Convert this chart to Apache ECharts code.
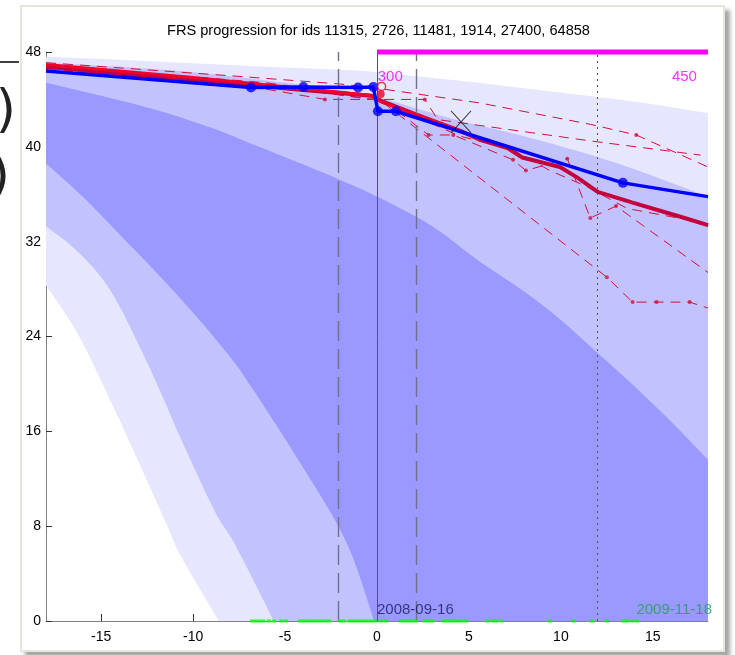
<!DOCTYPE html>
<html><head><meta charset="utf-8">
<script src="https://cdn.jsdelivr.net/npm/echarts@6/dist/echarts.min.js"></script>
<style>
html,body{margin:0;padding:0;background:#fff;overflow:hidden}
#panel{position:absolute;left:20px;top:5px;width:701px;height:643px;background:#fff;border:2px solid #e6e6dc;box-shadow:5px 5px 4px rgba(90,90,90,0.55)}
#c{position:absolute;left:0;top:0;width:735px;height:655px}
</style>
</head><body>
<div id="panel"></div>
<div id="c"></div>
<script>
// ---------------- data ----------------
const chartTitle = 'FRS progression for ids 11315, 2726, 11481, 1914, 27400, 64858';
const xTicks = [-15, -10, -5, 0, 5, 10, 15];

// percentile fan edges
const lightHighX = [-18, -14, -10, -6, -2, 0, 4, 8, 12, 15, 18];
const lightHighY = [47.6, 47.35, 47.05, 46.75, 46.5, 46.3, 45.65, 44.95, 44.2, 43.6, 42.85];
const lightLowX  = [-18, -16.3, -14.5, -12.7, -11.4, -10.6, -8.6, 18];
const lightLowY  = [28.3, 24.3, 18.6, 12.5, 8.0, 5.3, 0, 0];

const midHighX = [-18, -14, -10, -6, -2, 0, 2, 4.5, 8, 11, 14, 18];
const midHighY = [47.1, 46.75, 46.3, 45.6, 44.8, 44.2, 43.3, 42.2, 40.9, 39.6, 38.1, 35.8];
const midLowX  = [-18, -16.3, -14.5, -12.5, -10.5, -8.8, -7.7, -5.6, 18];
const midLowY  = [33.3, 31.2, 27.9, 21.8, 14.8, 9.2, 6.4, 0, 0];

const darkHighX = [-18, -15, -12, -9, -6.9, -4, -2, 0, 3, 5.6, 8, 10, 12, 14, 16, 18];
const darkHighY = [45.4, 44.3, 43.1, 41.6, 40.3, 38.5, 37.2, 35.8, 33.3, 30.3, 27.8, 25.4, 22.6, 19.8, 16.8, 13.6];
const darkLowX  = [-18, -16, -14, -12, -10, -8, -6.9, -4, -1.65, -0.15, 18];
const darkLowY  = [38.6, 35.8, 32.6, 29.4, 26.0, 22.3, 19.9, 12.9, 6.6, 0, 0];

// blue patient trajectory
const blueX = [-18, -6.85, -4.0, -1.03, -0.2, 0.05, 1.03, 13.37, 18];
const blueY = [46.4, 45.0, 45.05, 45.0, 45.05, 43.0, 43.0, 36.96, 35.8];
const blueDotX = [-6.85, -4.0, -1.03, -0.2, 0.05, 1.03, 13.37];
const blueDotY = [45.0, 45.05, 45.0, 45.05, 43.0, 43.0, 36.96];

// thick red / crimson trajectories
const crimsonX = [-18, -10, -4, -0.3, 0.2, 2.0, 4.6, 5.6, 7.1, 7.9, 9.95, 10.9, 12.0, 13.9, 16.5, 18];
const crimsonY = [46.75, 45.6, 44.8, 44.3, 43.9, 42.8, 41.3, 40.6, 39.9, 39.1, 38.3, 37.4, 36.2, 35.3, 34.1, 33.4];
const redX = [-18, -10, -0.4, 0.2, 4.6];
const redY = [46.95, 45.85, 44.35, 43.8, 41.3];

// thin dashed neighbour trajectories
const t1X = [-18, -8, -2, 0.2, 5.6, 11.6, 14.1, 18];
const t1Y = [47.1, 46.0, 45.3, 44.9, 43.7, 41.9, 41.0, 38.3];
const t1DotX = [14.1];
const t1DotY = [41.0];
const t2X = [-18, -8, -2.83, 2.6, 3.3, 11.6, 17.6];
const t2Y = [46.5, 45.4, 44.0, 44.0, 42.3, 40.5, 39.3];
const t2DotX = [-2.83, 2.6];
const t2DotY = [44.0, 44.0];
const t4X = [-18, -6, 0.2, 12.5, 13.9, 15.2, 17.0, 18];
const t4Y = [46.6, 45.2, 43.9, 29.0, 26.9, 26.9, 26.9, 26.4];
const t4DotX = [12.5, 13.9, 15.2, 17.0];
const t4DotY = [29.0, 26.9, 26.9, 26.9];
const t5X = [-18, -6, 0.2, 2.8, 4.15, 7.4, 8.1, 10.35, 11.6, 13.0, 18];
const t5Y = [46.9, 45.4, 44.1, 41.0, 41.0, 38.9, 38.0, 39.0, 34.0, 35.0, 29.4];
const t5DotX = [2.8, 4.15, 7.4, 8.1, 10.35, 11.6, 13.0];
const t5DotY = [41.0, 41.0, 38.9, 38.0, 39.0, 34.0, 35.0];
const t6X = [-18, -6, 0.2, 4.5, 7.2, 9.4, 11.4, 13.6, 16.7, 18];
const t6Y = [46.7, 45.3, 43.9, 40.9, 39.9, 38.0, 36.65, 34.8, 33.9, 33.3];

// special markers
const crossX = [4.57];  const crossY = [42.1];
const openCircX = [0.25]; const openCircY = [45.1];
const fillCircX = [0.2];  const fillCircY = [44.45];

// reference vertical lines
const vSolid = [0];
const vDashed = [-2.12, 2.15];
const vDotted = [12.0];

// magenta bar at top
const magX = [0, 18];
const magY = [48, 48];
const magLabels = ['300', '450'];
const magLabelX = [0.04, 17.4];
const magLabelY = [45.9, 45.9];

// visit rug along bottom
const rugX = [-6.8, -6.6, -6.4, -6.2, -5.9, -5.6, -5.2, -4.95,
  -4.2, -4.0, -3.8, -3.6, -3.4, -3.2, -3.0, -2.8, -2.6,
  -2.0, -1.8, -1.5, -1.3, -1.1, -0.9, -0.7, -0.5, -0.3, -0.1,
  0.2, 0.5, 1.3, 1.5, 1.7, 1.9, 2.1, 2.6, 2.8, 3.0, 3.6, 3.8, 4.0, 4.2, 4.4, 4.6, 4.85,
  6.0, 6.3, 6.5, 6.8, 9.4, 10.7, 11.7, 12.5, 13.4, 13.6, 13.9, 14.15];

const dateLabels = ['2008-09-16', '2009-11-18'];
const dateLabelX = [0, 18];
const dateLabelY = [0.9, 0.9];

// ---------------- chart ----------------
const zip = (xs, ys) => xs.map((x, i) => [x, ys[i]]);
const FONT = 'Liberation Sans, Arial, sans-serif';
const BLUE = '#0000FF', CRIMSON = '#C4003C', RED = '#F2002C', DASH = '#D0103C';

// Catmull-Rom curve through pixel points (current point must be pts[0])
function crSegs(pts) {
  let d = '';
  for (let i = 0; i < pts.length - 1; i++) {
    const p0 = pts[i - 1] || pts[i], p1 = pts[i], p2 = pts[i + 1], p3 = pts[i + 2] || p2;
    const c1 = [p1[0] + (p2[0] - p0[0]) / 6, p1[1] + (p2[1] - p0[1]) / 6];
    const c2 = [p2[0] - (p3[0] - p1[0]) / 6, p2[1] - (p3[1] - p1[1]) / 6];
    d += 'C' + c1[0] + ',' + c1[1] + ' ' + c2[0] + ',' + c2[1] + ' ' + p2[0] + ',' + p2[1];
  }
  return d;
}

function band(hx, hy, lx, ly, color, z) {
  return {
    type: 'custom', coordinateSystem: 'cartesian2d', silent: true, z: z, clip: true,
    data: [[hx[0], hy[0]]],
    renderItem: function (params, api) {
      const up = hx.map((x, i) => api.coord([x, hy[i]]));
      let k = ly.indexOf(0); if (k < 0) k = ly.length - 1;
      const curved = [];
      for (let i = k; i >= 0; i--) curved.push(api.coord([lx[i], ly[i]]));
      const last = api.coord([lx[lx.length - 1], ly[ly.length - 1]]);
      let d = 'M' + up[0][0] + ',' + up[0][1] + crSegs(up);
      d += 'L' + last[0] + ',' + last[1];
      d += 'L' + curved[0][0] + ',' + curved[0][1] + crSegs(curved) + 'Z';
      return { type: 'path', shape: { pathData: d }, style: { fill: color } };
    }
  };
}
function thinLine(xs, ys) {
  return { type: 'line', data: zip(xs, ys), showSymbol: false, z: 3, silent: true,
    lineStyle: { color: DASH, width: 1, type: [10, 7] } };
}
function dots(xs, ys, size, color, z) {
  return { type: 'scatter', data: zip(xs, ys), symbol: 'circle', symbolSize: size, z: z, silent: true,
    itemStyle: { color: color } };
}
function vline(xs, style) {
  return { type: 'line', data: [], silent: true, z: 2,
    markLine: { silent: true, symbol: ['none', 'none'], label: { show: false }, animation: false,
      lineStyle: style, data: xs.map(v => ({ xAxis: v })) } };
}

const chart = echarts.init(document.getElementById('c'), null, { renderer: 'canvas' });
chart.setOption({
  animation: false,
  backgroundColor: 'transparent',
  title: { text: chartTitle, left: 162, top: 18,
    textStyle: { fontSize: 14.6, fontWeight: 'normal', color: '#000', fontFamily: FONT } },
  grid: { left: 46, right: 27, top: 52, bottom: 34 },
  xAxis: {
    type: 'value', min: -18, max: 18,
    axisLine: { show: true, onZero: false, lineStyle: { color: '#808080', width: 1 } },
    axisTick: { show: true, inside: true, length: 7, customValues: xTicks, lineStyle: { color: '#333' } },
    axisLabel: { customValues: xTicks, fontSize: 14, color: '#000', margin: 9, fontFamily: FONT },
    splitLine: { show: false }
  },
  yAxis: {
    type: 'value', min: 0, max: 48, interval: 8,
    axisLine: { show: true, onZero: false, lineStyle: { color: '#808080', width: 1 } },
    axisTick: { show: true, inside: true, length: 6, lineStyle: { color: '#333' } },
    axisLabel: { fontSize: 14, color: '#000', margin: 5, fontFamily: FONT },
    splitLine: { show: false }
  },
  graphic: [
    { type: 'line', shape: { x1: 0, y1: 62, x2: 19, y2: 62 }, style: { stroke: '#000', lineWidth: 1.5 } },
    { type: 'text', x: 16, y: 112, style: { text: ')', font: '52px DejaVu Sans', fill: '#222', align: 'right', verticalAlign: 'middle' } },
    { type: 'text', x: 10, y: 178, style: { text: ')', font: '52px DejaVu Sans', fill: '#222', align: 'right', verticalAlign: 'middle' } }
  ],
  series: [
    band(lightHighX, lightHighY, lightLowX, lightLowY, '#E6E6FF', 1),
    band(midHighX, midHighY, midLowX, midLowY, '#C2C2FF', 1),
    band(darkHighX, darkHighY, darkLowX, darkLowY, '#9999FF', 1),
    vline(vSolid, { color: '#555', width: 1, type: 'solid' }),
    vline(vDashed, { color: '#70708a', width: 1.4, type: [20, 8] }),
    vline(vDotted, { color: '#555', width: 1, type: [2, 4] }),
    thinLine(t1X, t1Y), thinLine(t2X, t2Y), thinLine(t4X, t4Y), thinLine(t5X, t5Y), thinLine(t6X, t6Y),
    dots(t1DotX, t1DotY, 4, DASH, 3), dots(t2DotX, t2DotY, 4, DASH, 3),
    dots(t4DotX, t4DotY, 4, DASH, 3), dots(t5DotX, t5DotY, 4, DASH, 3),
    { type: 'line', data: zip(crimsonX, crimsonY), showSymbol: false, z: 4, silent: true,
      lineStyle: { color: CRIMSON, width: 4 } },
    { type: 'line', data: zip(redX, redY), showSymbol: false, z: 5, silent: true,
      lineStyle: { color: RED, width: 3 } },
    { type: 'line', data: zip(blueX, blueY), showSymbol: false, z: 6, silent: true,
      lineStyle: { color: BLUE, width: 3.5 } },
    dots(blueDotX, blueDotY, 10, BLUE, 7),
    dots(fillCircX, fillCircY, 8, RED, 7),
    { type: 'scatter', data: zip(openCircX, openCircY), symbol: 'circle', symbolSize: 8, z: 7, silent: true,
      itemStyle: { color: 'rgba(255,255,255,0.6)', borderColor: RED, borderWidth: 1.5 } },
    { type: 'scatter', data: zip(crossX, crossY), symbol: 'path://M0,0L20,22M20,0L0,22', symbolSize: [20, 22],
      z: 8, silent: true, itemStyle: { color: 'none', borderColor: '#111', borderWidth: 1 } },
    { type: 'line', data: zip(magX, magY), showSymbol: false, z: 8, silent: true, clip: false,
      lineStyle: { color: '#FF00FF', width: 5 } },
    { type: 'scatter', z: 9, silent: true, symbolSize: 0,
      data: magLabels.map((t, i) => ({ value: [magLabelX[i], magLabelY[i]],
        label: { show: true, formatter: t, position: i === 0 ? 'right' : 'left', distance: 0,
          color: '#FF00FF', fontSize: 15, fontFamily: FONT } })) },
    { type: 'scatter', data: rugX.map(x => [x, 0]), symbol: 'rect', symbolSize: [4, 3], z: 9, silent: true, clip: false,
      itemStyle: { color: '#00FF00' } },
    { type: 'scatter', z: 10, silent: true, symbolSize: 0, clip: false,
      data: dateLabels.map((t, i) => ({ value: [dateLabelX[i], dateLabelY[i]],
        label: { show: true, formatter: t, position: i === 0 ? 'right' : 'left', distance: i === 0 ? 0 : -4,
          color: i === 0 ? '#1a1a5c' : '#1f9e5a', fontSize: 15, fontFamily: FONT } })) }
  ]
});
</script>
</body></html>
